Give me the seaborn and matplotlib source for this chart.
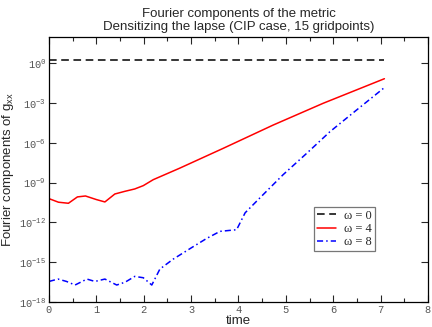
import numpy as np
import pandas as pd
import seaborn as sns
import matplotlib
matplotlib.use("Agg")
import matplotlib.pyplot as plt
from matplotlib.ticker import FixedLocator, MultipleLocator, NullLocator

# ---- data ----
t_w0 = [0.0, 7.07]
log_w0 = [0.3, 0.3]

t_w4 = [0.0, 0.2, 0.41, 0.6, 0.77, 1.0, 1.18, 1.39, 1.6, 1.81, 1.99, 2.2, 2.76, 3.68, 4.73, 5.79, 7.08]
log_w4 = [-10.2, -10.47, -10.55, -10.07, -10.0, -10.27, -10.45, -9.85, -9.65, -9.47, -9.22,
          -8.77, -7.9, -6.4, -4.65, -3.0, -1.15]

t_w8 = [0.0, 0.19, 0.37, 0.55, 0.8, 0.97, 1.18, 1.43, 1.61, 1.81, 1.99, 2.17, 2.34, 2.62,
        3.01, 3.33, 3.61, 3.89, 3.96, 4.14, 4.52, 4.94, 5.44, 5.93, 6.49, 7.08]
log_w8 = [-16.45, -16.27, -16.45, -16.72, -16.27, -16.45, -16.27, -16.72, -16.5, -16.07, -16.17,
          -16.72, -15.52, -14.77, -13.9, -13.2, -12.67, -12.57, -12.55, -11.27, -9.9, -8.4,
          -6.78, -5.15, -3.52, -1.82]

labels = ["ω = 0", "ω = 4", "ω = 8"]
xticks = [0, 1, 2, 3, 4, 5, 6, 7, 8]
yexp = [0, -3, -6, -9, -12, -15, -18]

sns.set_theme(style="ticks")
plt.rcParams["font.family"] = ["Liberation Sans", "DejaVu Sans"]
plt.rcParams["mathtext.fontset"] = "custom"
plt.rcParams["mathtext.rm"] = "Liberation Sans"
plt.rcParams["mathtext.it"] = "Liberation Sans"
plt.rcParams["mathtext.tt"] = "Liberation Mono"
plt.rcParams["mathtext.default"] = "regular"

fig = plt.figure(figsize=(4.32, 3.27), dpi=100)
ax = fig.add_axes([0.1134, 0.0765, 0.8773, 0.8104])

d0 = pd.DataFrame({"t": t_w0, "v": np.power(10.0, log_w0)})
d4 = pd.DataFrame({"t": t_w4, "v": np.power(10.0, log_w4)})
d8 = pd.DataFrame({"t": t_w8, "v": np.power(10.0, log_w8)})

sns.lineplot(data=d0, x="t", y="v", ax=ax, color="black", lw=1.1, label=labels[0],
             linestyle=(0, (5, 3)))
sns.lineplot(data=d4, x="t", y="v", ax=ax, color="#ff0000", lw=1.1, label=labels[1])
sns.lineplot(data=d8, x="t", y="v", ax=ax, color="#0000ff", lw=1.1, label=labels[2],
             linestyle=(0, (4, 2, 1, 2)))

ax.set_yscale("log")
ax.set_xlim(0, 8)
ax.set_ylim(1e-18, 1e2)
ax.yaxis.set_major_locator(FixedLocator([10.0 ** e for e in yexp]))
ax.yaxis.set_minor_locator(NullLocator())
ax.set_xticks(xticks)
ax.xaxis.set_minor_locator(MultipleLocator(0.5))
ax.set_xticklabels([str(v) for v in xticks], family="Liberation Mono")
ax.set_yticklabels([r"$\mathtt{10^{%d}}$" % e for e in yexp])

ax.tick_params(which="both", direction="in", top=True, right=True, labelsize=7.5,
               labelcolor="#555555", width=0.8)
ax.tick_params(which="major", length=5)
ax.tick_params(which="minor", length=3)
ax.tick_params(axis="x", pad=2)
ax.tick_params(axis="y", pad=2)
for s in ax.spines.values():
    s.set_linewidth(0.9)
    s.set_color("black")

ax.set_xlabel("time", fontsize=9.5, labelpad=0)
ax.set_ylabel(r"Fourier components of g$_{xx}$", fontsize=9.5, labelpad=2)
ax.set_title("Fourier components of the metric\nDensitizing the lapse (CIP case, 15 gridpoints)",
             fontsize=9.5, pad=5, linespacing=1.1)

leg = ax.legend(loc="upper left", bbox_to_anchor=(0.70, 0.36), frameon=True, fancybox=False,
                edgecolor="#555555", fontsize=9, handlelength=1.5, borderpad=0.25,
                labelspacing=0.1, handletextpad=0.6, borderaxespad=0)
leg.get_frame().set_linewidth(0.9)
for txt in leg.get_texts():
    txt.set_family("Liberation Serif")

fig.savefig("out.png", dpi=100)
